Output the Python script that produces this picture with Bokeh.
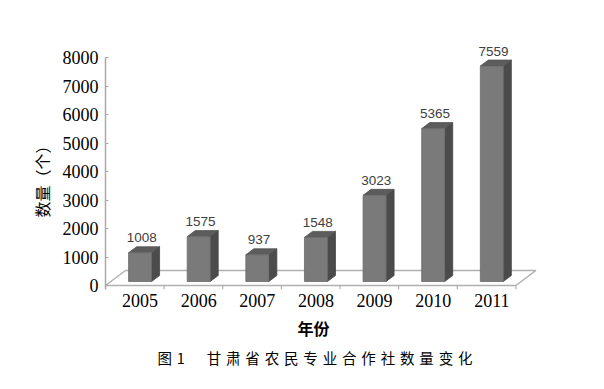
from bokeh.plotting import figure
from bokeh.models import Range1d, FixedTicker, LabelSet, ColumnDataSource, Title
from bokeh.core.properties import value
from bokeh.embed import file_html
from bokeh.resources import INLINE

# ---- data ----
years = ["2005", "2006", "2007", "2008", "2009", "2010", "2011"]
counts = [1008, 1575, 937, 1548, 3023, 5365, 7559]
y_ticks = [0, 1000, 2000, 3000, 4000, 5000, 6000, 7000, 8000]
y_title = "数量（个）"
x_title = "年份"
caption_prefix = "图\u20041"
caption_text = "甘肃省农民专业合作社数量变化"

# ---- layout constants (pixels) ----
W, H = 600, 385
FL, FT, FR, FB = 105, 40, 540, 289       # frame edges
PX_PER_UNIT_Y = 0.0285                   # px per count
X_END = 7.42
Y_START = -140
Y_END = 8000 + (57 - FT) / PX_PER_UNIT_Y
pxx = (FR - FL) / X_END
pxy = PX_PER_UNIT_Y

p = figure(width=W, height=H, output_backend="svg", toolbar_location=None,
           x_range=Range1d(0, X_END), y_range=Range1d(Y_START, Y_END),
           min_border_left=FL, min_border_top=FT,
           min_border_right=W - FR, min_border_bottom=H - FB)
p.outline_line_color = None
p.grid.visible = False
p.background_fill_color = "white"
p.border_fill_color = "white"

# ---- floor ----
floor_depth_x = 20 / pxx
floor_depth_y = 15 / pxy
n = len(years)
p.patch([0, n, n + floor_depth_x, floor_depth_x], [0, 0, floor_depth_y, floor_depth_y],
        fill_color="white", line_color="#b0b0b0", line_width=1.5)
p.segment(x0=list(range(n + 1)), y0=[0] * (n + 1), x1=list(range(n + 1)),
          y1=[Y_START] * (n + 1), line_color="#b0b0b0", line_width=1.2)

# ---- 3D bars ----
base = 4 / pxy
hw = 11.5 / pxx
ddx = 8 / pxx
ddy = 6 / pxy
centers = [i + 0.59 for i in range(n)]
front_l, front_r, front_b, front_t = [], [], [], []
side_xs, side_ys, top_xs, top_ys = [], [], [], []
for c, v in zip(centers, counts):
    top = base + v
    front_l.append(c - hw); front_r.append(c + hw)
    front_b.append(base); front_t.append(top)
    side_xs.append([c + hw, c + hw + ddx, c + hw + ddx, c + hw])
    side_ys.append([base, base + ddy, top + ddy, top])
    top_xs.append([c - hw, c + hw, c + hw + ddx, c - hw + ddx])
    top_ys.append([top, top, top + ddy, top + ddy])

p.patches(side_xs, side_ys, fill_color="#4b4b4b", line_color="#454545", line_width=0.8)
p.patches(top_xs, top_ys, fill_color="#5c5c5c", line_color="#505050", line_width=0.8)
p.quad(left=front_l, right=front_r, bottom=front_b, top=front_t,
       fill_color="#7a7a7a", line_color="#6a6a6a", line_width=0.8)

# ---- value labels ----
lab_src = ColumnDataSource(dict(x=[c + 0.03 for c in centers],
                                y=[base + v + 15 / pxy for v in counts],
                                t=[str(v) for v in counts]))
p.add_layout(LabelSet(x="x", y="y", text="t", source=lab_src,
                      text_align="center", text_baseline="middle",
                      text_font=value("Liberation Sans"),
                      text_font_size=value("13.5px"),
                      text_color=value("#404040")))

# ---- axes ----
ya = p.yaxis[0]
ya.ticker = FixedTicker(ticks=y_ticks)
ya.bounds = (Y_START, 8000)
ya.axis_line_color = "#a8a8a8"
ya.axis_line_width = 1.5
ya.major_tick_line_color = "#a8a8a8"
ya.major_tick_in = 3
ya.major_tick_out = 0
ya.minor_tick_line_color = None
ya.major_label_standoff = 7
ya.major_label_text_font = "Liberation Serif"
ya.major_label_text_font_size = "18px"
ya.major_label_text_color = "black"

xa = p.xaxis[0]
xa.ticker = FixedTicker(ticks=centers)
xa.major_label_overrides = {c: y for c, y in zip(centers, years)}
xa.axis_line_color = None
xa.major_tick_line_color = None
xa.minor_tick_line_color = None
xa.major_tick_out = 0
xa.major_tick_in = 0
xa.major_label_standoff = 4
xa.major_label_text_font = "Liberation Serif"
xa.major_label_text_font_size = "18px"
xa.major_label_text_color = "black"

# ---- titles ----
cjk = "Noto Sans CJK SC"
p.add_layout(Title(text=y_title, align="left", text_font=cjk, text_font_size="16px",
                   text_font_style="normal", text_color="black", standoff=11,
                   offset=FB - 217), "left")
p.add_layout(Title(text=x_title, align="left", text_font=cjk, text_font_size="16px",
                   text_font_style="bold", text_color="black", standoff=9,
                   offset=297 - FL), "below")
sp = "\u2004"
caption = caption_prefix + "\u3000\u2002" + sp.join(caption_text)
p.add_layout(Title(text=caption, align="left", text_font=cjk, text_font_size="14.5px",
                   text_font_style="normal", text_color="black", standoff=1,
                   offset=157 - FL), "below")

open("out.html", "w").write(file_html(p, INLINE))
